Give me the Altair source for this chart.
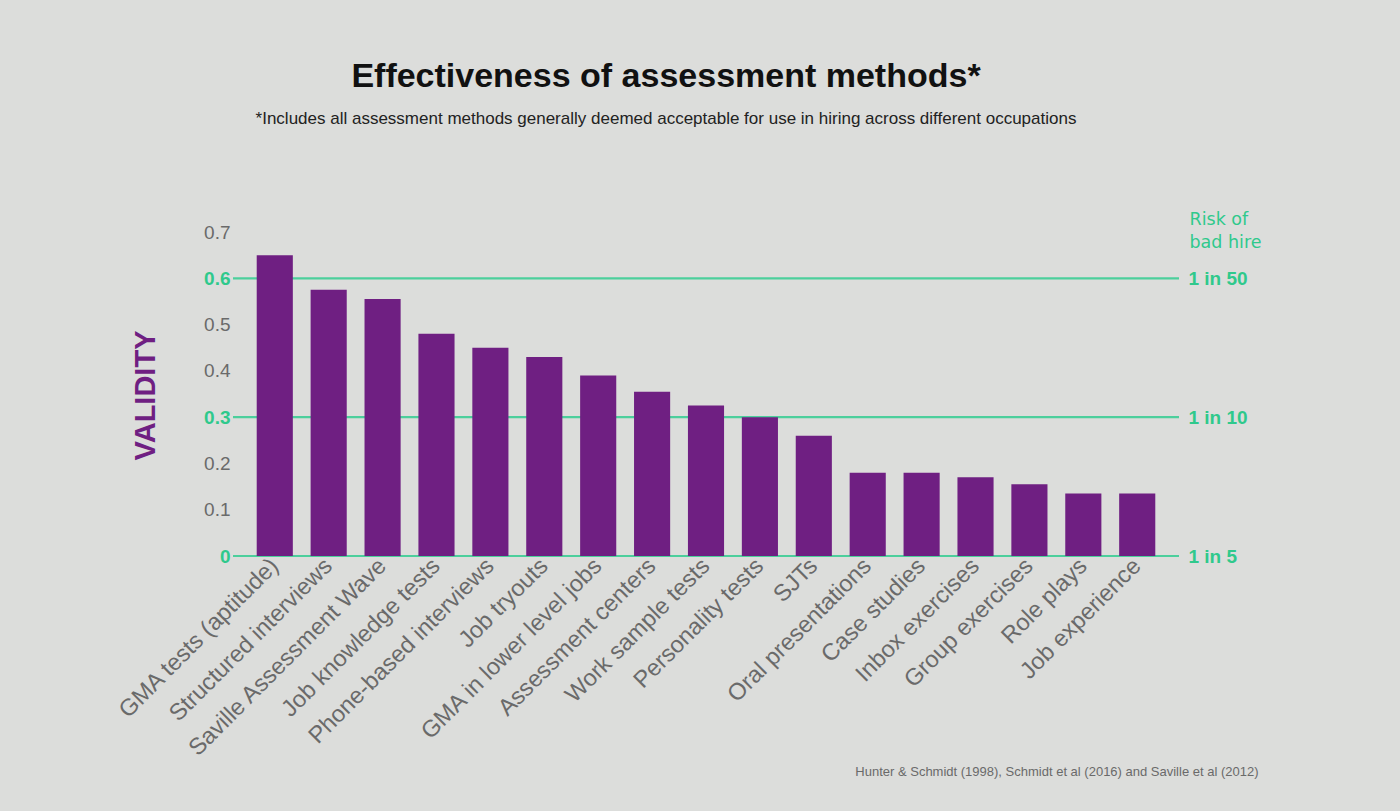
import altair as alt
import pandas as pd

methods = [
    "GMA tests (aptitude)", "Structured interviews", "Saville Assessment Wave",
    "Job knowledge tests", "Phone-based interviews", "Job tryouts",
    "GMA in lower level jobs", "Assessment centers", "Work sample tests",
    "Personality tests", "SJTs", "Oral presentations", "Case studies",
    "Inbox exercises", "Group exercises", "Role plays", "Job experience",
]
validity = [0.65, 0.575, 0.555, 0.48, 0.45, 0.43, 0.39, 0.355, 0.325, 0.30,
            0.26, 0.18, 0.18, 0.17, 0.155, 0.135, 0.135]
left_ticks = [0, 0.1, 0.2, 0.3, 0.4, 0.5, 0.6, 0.7]
risk_levels = [0, 0.3, 0.6]
risk_labels = ["1 in 5", "1 in 10", "1 in 50"]

TITLE = "Effectiveness of assessment methods*"
SUBTITLE = ("*Includes all assessment methods generally deemed acceptable "
            "for use in hiring across different occupations")
SOURCE = "Hunter & Schmidt (1998), Schmidt et al (2016) and Saville et al (2012)"

PURPLE = "#6f1f82"
GREEN = "#2fc98c"
LINE_GREEN = "#4ccf9c"
GREY = "#6a6a6a"
BG = "#dcdddb"
FONT = "Liberation Sans"

bars_df = pd.DataFrame({"method": methods, "validity": validity})
risk_df = pd.DataFrame({"v": risk_levels, "label": risk_labels})

yscale = alt.Scale(domain=[0, 0.7], nice=False, zero=True)
hl_test = " || ".join(f"datum.value == {v}" for v in risk_levels)
risk_expr = " : ".join(f"datum.value == {v} ? '{l}'" for v, l in zip(risk_levels, risk_labels)) + " : ''"

W, H = 946, 324

rules = alt.Chart(risk_df).mark_rule(color=LINE_GREEN, strokeWidth=2.2).encode(
    y=alt.Y(
        "v:Q", scale=yscale,
        axis=alt.Axis(
            orient="right", values=risk_levels, labelExpr=risk_expr,
            labelColor=GREEN, labelFont=FONT, labelFontSize=19, labelFontWeight="bold",
            labelPadding=9, domain=False, ticks=False, grid=False,
            title=["Risk of", "bad hire"], titleFont="DejaVu Sans", titleFontSize=17.5,
            titleFontWeight="normal", titleColor=GREEN, titleAngle=0,
            titleAlign="left", titleBaseline="alphabetic", titleX=10, titleY=-8,
            titleLineHeight=23,
        ),
    )
)

bars = alt.Chart(bars_df).mark_bar(color=PURPLE).encode(
    x=alt.X(
        "method:N", sort=methods,
        scale=alt.Scale(paddingInner=0.33, paddingOuter=0.44),
        axis=alt.Axis(
            labelAngle=-45, labelAlign="right", labelBaseline="middle",
            labelFont=FONT, labelFontSize=23.5, labelColor=GREY, labelPadding=6,
            domain=False, ticks=False, labelLimit=400,
            title=SOURCE, titleFont=FONT, titleFontSize=13, titleFontWeight="normal",
            titleColor=GREY, titleX=1025, titleY=219, titleAlign="right",
            titleBaseline="alphabetic", titleAnchor="end",
        ),
    ),
    y=alt.Y(
        "validity:Q", scale=yscale,
        axis=alt.Axis(
            values=left_ticks,
            labelExpr="datum.value == 0 ? '0' : format(datum.value, '.1f')",
            labelColor={"condition": {"test": hl_test, "value": GREEN}, "value": GREY},
            labelFontWeight={"condition": {"test": hl_test, "value": "bold"}, "value": "normal"},
            labelFont=FONT, labelFontSize=19, labelPadding=3,
            domain=False, ticks=False, grid=False,
            title="VALIDITY", titleFont=FONT, titleFontSize=29, titleFontWeight="bold",
            titleColor=PURPLE, titleAngle=270, titleAlign="center",
            titleBaseline="middle", titleX=-88, titleY=163,
        ),
    ),
)

chart = alt.layer(rules, bars).resolve_scale(y="independent").properties(
    width=W, height=H,
    title=alt.TitleParams(
        text=TITLE, subtitle=SUBTITLE, font=FONT, fontSize=34, fontWeight="bold",
        color="#111111", subtitleFont=FONT, subtitleFontSize=17,
        subtitleColor="#222222", subtitlePadding=17, anchor="middle",
        frame="group", dx=-40, offset=83,
    ),
    background=BG,
    padding={"left": 233, "top": 232, "right": 221, "bottom": 255},
    autosize=alt.AutoSizeParams(type="none"),
).configure_view(stroke=None)

chart.save("out.html", embed_options={"renderer": "svg", "actions": False})
